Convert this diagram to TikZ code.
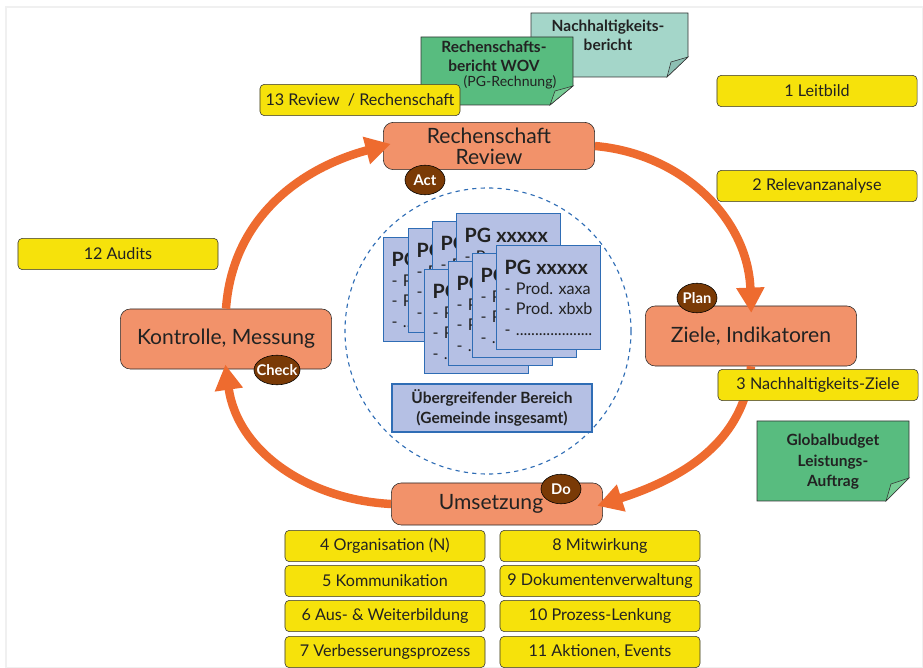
\documentclass[tikz,border=0pt]{standalone}
\usepackage{fontspec}
\setmainfont{Lato}
\usetikzlibrary{arrows.meta,shapes.geometric,positioning}
\definecolor{taskyellow}{HTML}{F6E20B}
\definecolor{phaseorange}{HTML}{F2926A}
\definecolor{cycleorange}{HTML}{EE6B2F}
\definecolor{pdcabrown}{HTML}{7A3A06}
\definecolor{cardfill}{HTML}{B5C0E4}
\definecolor{cardblue}{HTML}{2F6DB5}
\definecolor{notegreen}{HTML}{58BC7F}
\definecolor{notegreenflap}{HTML}{76CC94}
\definecolor{noteteal}{HTML}{A4D6C9}
\definecolor{notetealflap}{HTML}{8DBFB3}
\definecolor{textdark}{HTML}{222222}
\newcommand{\pgcontent}{{\fontsize{14}{15}\selectfont\bfseries PG xxxxx}\\- Prod.\ xaxa\\- Prod.\ xbxb\\- ....................}

\tikzset{
  task/.style={draw=black!80, fill=taskyellow, rounded corners=3pt, minimum width=5cm,
    minimum height=0.78cm, inner sep=1pt, text=textdark, font=\fontsize{11.5}{13}\selectfont},
  phase/.style={draw=black!85, fill=phaseorange, rounded corners=7pt, minimum width=5.28cm,
    align=center, text=textdark, font=\fontsize{15}{15}\selectfont},
  pdca/.style={ellipse, draw=black, fill=pdcabrown, text=white, inner xsep=-3pt, inner ysep=-3pt,
    minimum width=1cm, minimum height=0.74cm, font=\bfseries\fontsize{10.5}{12}\selectfont},
  pgcard/.style={draw=cardblue, fill=cardfill, thick, anchor=north west, minimum height=2.6cm,
    inner xsep=0.2cm, text width=2.2cm, align=left, text=textdark, font=\fontsize{11.5}{14.5}\selectfont},
  pdcaarrow/.style={draw=cycleorange, line width=6pt, -{Triangle[length=18pt,width=19pt]}},
  notetext/.style={align=center, text=textdark, font=\bfseries\fontsize{11}{13.5}\selectfont},
}

\begin{document}
\begin{tikzpicture}[x=0.025cm, y=0.025cm]
\useasboundingbox (0,0) rectangle (923,-668);
\draw[black!6, line width=1pt] (6,-7) rectangle (923,-668);

% Reports (notes with folded corner)
\filldraw[draw=black!80, fill=noteteal] (531,-13) -- (688,-13) -- (688,-57) -- (667,-77) -- (531,-77) -- cycle;
\filldraw[draw=black!80, fill=notetealflap] (688,-57) -- (671,-62) -- (667,-77) -- cycle;
\node[notetext] (nhbericht) at (608,-35) {Nachhaltigkeits-\\bericht};

\filldraw[draw=black!80, fill=notegreen] (421,-37) -- (573,-37) -- (573,-86) -- (550,-105) -- (421,-105) -- cycle;
\filldraw[draw=black!80, fill=notegreenflap] (573,-86) -- (555,-91) -- (550,-105) -- cycle;
\node[notetext] (rsbericht) at (494,-56) {Rechenschafts-\\bericht WOV};
\node[text=textdark, font=\fontsize{10}{12}\selectfont] (pgrechnung) at (510,-82) {(PG-Rechnung)};

\filldraw[draw=black!80, fill=notegreen] (757,-421) -- (909,-421) -- (909,-478) -- (886,-501) -- (757,-501) -- cycle;
\filldraw[draw=black!80, fill=notegreenflap] (909,-478) -- (891,-484) -- (886,-501) -- cycle;
\node[notetext, font=\bfseries\fontsize{11}{14.5}\selectfont] (globalbudget) at (833,-462) {Globalbudget\\Leistungs-\\Auftrag};

% Product groups inside the dashed circle
\draw[cardblue, dashed, thick] (488,-331) circle (143);
\node[pgcard] (pga) at (383,-237) {\pgcontent};
\node[pgcard] (pgb) at (408,-228) {\pgcontent};
\node[pgcard] (pgc) at (432,-221) {\pgcontent};
\node[pgcard] (pgd) at (456,-213) {\pgcontent};
\node[pgcard] (pge) at (424,-269) {\pgcontent};
\node[pgcard] (pgf) at (448,-261) {\pgcontent};
\node[pgcard] (pgg) at (472,-253) {\pgcontent};
\node[pgcard] (pgh) at (496,-245) {\pgcontent};
\node[draw=cardblue, fill=cardfill, thick, minimum width=5cm, minimum height=1.2cm, align=center,
  text=textdark, font=\bfseries\fontsize{11}{14}\selectfont] (gemeinde) at (492,-408)
  {Übergreifender Bereich\\(Gemeinde insgesamt)};

% PDCA phases
\node[phase, minimum height=1.18cm] (rechenschaft) at (489,-146) {Rechenschaft\\Review};
\node[phase, minimum height=1.5cm] (ziele) at (751,-336) {Ziele, Indikatoren};
\node[phase, minimum height=1.5cm] (kontrolle) at (226,-339) {Kontrolle, Messung};
\node[phase, minimum height=1.05cm] (umsetzung) at (497,-504) {Umsetzung\hspace*{0.3cm}};

% Cycle arrows
\draw[pdcaarrow, shorten >=-0.2cm] (kontrolle.north) to[out=86, in=195] (rechenschaft.west);
\draw[pdcaarrow, shorten >=-0.18cm] (rechenschaft.east) to[out=-5, in=92] (ziele.north);
\draw[pdcaarrow, shorten >=-0.15cm] (ziele.south) to[out=-95, in=18] (umsetzung.east);
\draw[pdcaarrow, shorten >=-0.12cm] (umsetzung.west) to[out=177, in=-82] (kontrolle.south);

% Tasks
\node[task] (leitbild) at (817,-91) {1 Leitbild};
\node[task] (relevanz) at (817,-186) {2 Relevanzanalyse};
\node[task] (nhziele) at (818,-385) {3 Nachhaltigkeits-Ziele};
\node[task] (audits) at (118,-254) {12 Audits};
\node[task] (review) at (360,-100) {13 Review\enspace/ Rechenschaft};

\node[task] (organisation) at (385,-546) {4 Organisation (N)};
\node[task] (kommunikation) at (385,-581) {5 Kommunikation};
\node[task] (bildung) at (385,-616) {6 Aus- \& Weiterbildung};
\node[task] (verbesserung) at (385,-652) {7 Verbesserungsprozess};
\node[task] (mitwirkung) at (600,-546) {8 Mitwirkung};
\node[task] (dokumente) at (600,-581) {9 Dokumentenverwaltung};
\node[task] (prozess) at (600,-616) {10 Prozess-Lenkung};
\node[task] (aktionen) at (600,-652) {11 Aktionen, Events};

% Plan / Do / Check / Act
\node[pdca] (act) at (425,-180) {Act};
\node[pdca] (plan) at (697,-298) {Plan};
\node[pdca] (check) at (277,-370) {Check};
\node[pdca] (do) at (561,-489) {Do};
\end{tikzpicture}
\end{document}
